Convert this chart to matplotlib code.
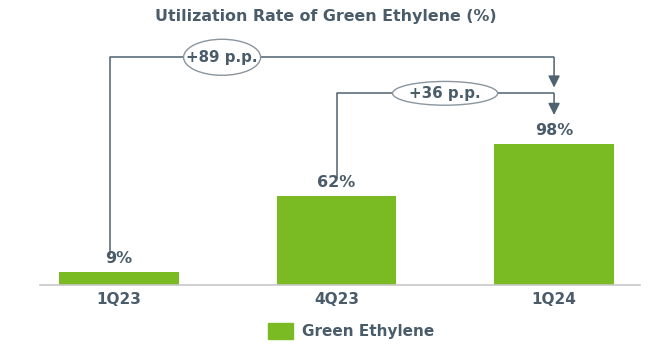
import matplotlib
matplotlib.use("Agg")
import matplotlib.pyplot as plt
from matplotlib.patches import Ellipse

categories = ["1Q23", "4Q23", "1Q24"]
utilization = [9, 62, 98]
value_labels = ["9%", "62%", "98%"]
deltas = ["+89 p.p.", "+36 p.p."]

GREEN = "#7aba22"
SLATE = "#4a5c6a"
LINE = "#4f6270"
GRAY = "#c8c8c8"

plt.rcParams["font.family"] = ["DejaVu Sans"]

fig = plt.figure(figsize=(6.52, 3.44), dpi=100)
ax = fig.add_axes([40 / 652, 59 / 344, 600 / 652, 245 / 344])
ax.set_xlim(-0.363, 2.395)
ax.set_ylim(0, 170)

x = list(range(len(categories)))
ax.bar(x, utilization, width=0.55, color=GREEN, zorder=2)

for xi, v, lab in zip(x, utilization, value_labels):
    ax.text(xi, v + 4, lab, ha="center", va="bottom", fontsize=11.5,
            fontweight="bold", color=SLATE)

for s in ["top", "right", "left"]:
    ax.spines[s].set_visible(False)
ax.spines["bottom"].set_color(GRAY)
ax.spines["bottom"].set_linewidth(1.2)
ax.set_yticks([])
ax.set_xticks(x)
ax.set_xticklabels(categories, fontsize=11, fontweight="bold", color=SLATE)
ax.tick_params(axis="x", length=0, pad=5)

# Bracket connectors from earlier quarters to the latest one
target = x[-1]
levels = [158, 133]
tips = [137, 118]
starts = [x[0] - 0.04, x[1]]
centers = [0.474, 1.499]
sizes = [(0.354, 25), (0.483, 16.5)]
for i, (sx, lvl, tip, cx, (ew, eh), txt) in enumerate(
        zip(starts, levels, tips, centers, sizes, deltas)):
    y0 = utilization[i] + 12
    ax.plot([sx, sx, target], [y0, lvl, lvl], color=LINE, lw=1.1,
            solid_capstyle="butt", zorder=1, clip_on=False)
    ax.annotate("", xy=(target, tip), xytext=(target, lvl),
                arrowprops=dict(arrowstyle="-|>,head_width=0.35,head_length=0.7",
                                color=LINE, lw=1.1, shrinkA=0, shrinkB=0))
    ax.add_patch(Ellipse((cx, lvl), ew, eh, facecolor="white",
                         edgecolor="#8a959e", lw=1.0, zorder=3, clip_on=False))
    ax.text(cx, lvl, txt, ha="center", va="center", fontsize=10.8,
            fontweight="bold", color=SLATE, zorder=4)

fig.text(326 / 652, 1 - 17 / 344, "Utilization Rate of Green Ethylene (%)",
         ha="center", va="center", fontsize=11.4, fontweight="bold", color=SLATE)

# Legend
leg = fig.legend(handles=[plt.Rectangle((0, 0), 1, 1, color=GREEN)],
                 labels=["Green Ethylene"], loc="center",
                 bbox_to_anchor=(351 / 652, 1 - 331 / 344), frameon=False,
                 handlelength=1.6, handleheight=1.2, handletextpad=0.6,
                 prop={"size": 11, "weight": "bold"})
for t in leg.get_texts():
    t.set_color(SLATE)

fig.savefig("out.png", dpi=100)
